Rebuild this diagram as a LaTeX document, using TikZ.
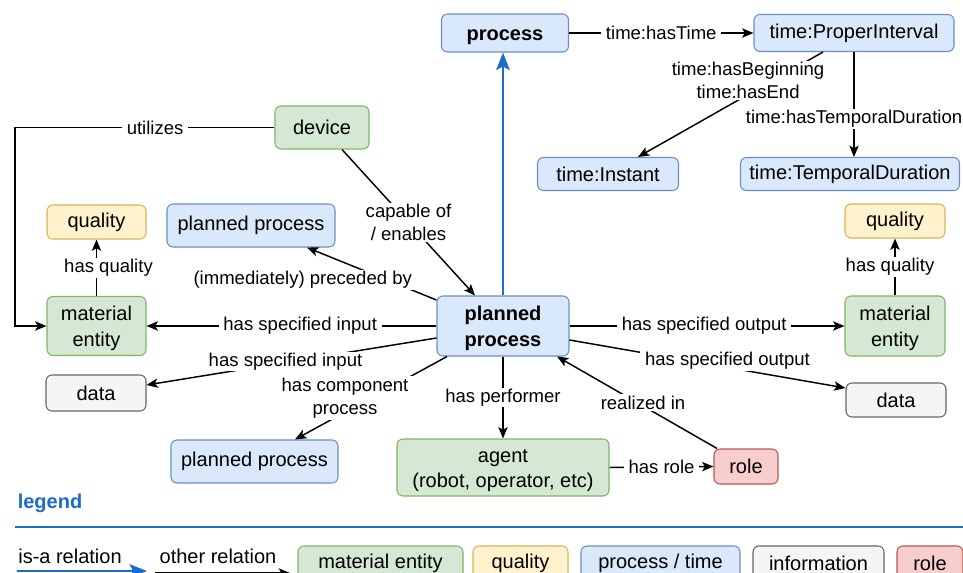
\documentclass[tikz,border=0pt]{standalone}
\usepackage{fontspec}
\setmainfont{Liberation Sans}
\usepackage{tikz}
\usetikzlibrary{arrows.meta}
\usepackage{xcolor}
\definecolor{greenfill}{HTML}{D5E8D4}
\definecolor{greenline}{HTML}{82B366}
\definecolor{yellowfill}{HTML}{FFF2CC}
\definecolor{yellowline}{HTML}{D6B656}
\definecolor{bluefill}{HTML}{DAE8FC}
\definecolor{blueline}{HTML}{6C8EBF}
\definecolor{greyfill}{HTML}{F5F5F5}
\definecolor{greyline}{HTML}{666666}
\definecolor{redfill}{HTML}{F8CECC}
\definecolor{redline}{HTML}{B85450}
\definecolor{isablue}{HTML}{1A6CCF}
\newcommand{\lift}{\rule{0pt}{14.5pt}}
\tikzset{
  box/.style = {draw, rounded corners=4.5pt, line width=0.8pt, inner sep=0pt, align=center,
    font=\fontsize{15}{19}\selectfont},
  material/.style = {box, fill=greenfill, draw=greenline},
  qual/.style = {box, fill=yellowfill, draw=yellowline},
  proc/.style = {box, fill=bluefill, draw=blueline},
  info/.style = {box, fill=greyfill, draw=greyline},
  rolebox/.style = {box, fill=redfill, draw=redline},
  rel/.style = {line width=1.1pt, -{Stealth[length=8.5pt,width=7pt,inset=2pt]}},
  isa/.style = {line width=2.2pt, draw=isablue, -{Stealth[length=13pt,width=10pt,inset=2.5pt]}},
  lbl/.style = {fill=white, inner xsep=3.5pt, inner ysep=1pt, align=center, font=\fontsize{13.9}{17.5}\selectfont},
  legendtext/.style = {inner sep=1pt, font=\fontsize{15}{19}\selectfont}
}

\begin{document}
\begin{tikzpicture}[x=0.75pt, y=-0.75pt]
  \useasboundingbox (0,0) rectangle (963,573);

  % time part
  \node[proc, font=\fontsize{15}{19}\selectfont\bfseries, minimum width=95.25pt, minimum height=28.5pt] (process) at (505,33) {\lift process};
  \node[proc, minimum width=150pt, minimum height=27.75pt] (interval) at (854,33) {time:ProperInterval};
  \node[proc, minimum width=105.75pt, minimum height=24.75pt] (instant) at (608,174) {time:Instant};
  \node[proc, minimum width=164.25pt, minimum height=24.75pt] (duration) at (850,174) {time:TemporalDuration};

  % planned process and its neighbours
  \node[proc, font=\fontsize{15}{19}\selectfont\bfseries, minimum width=99pt, minimum height=45pt] (pp) at (503,326) {\lift planned\\process};
  \node[material, minimum width=70.5pt, minimum height=32.25pt] (device) at (322,127.5) {device};
  \node[qual, minimum width=74.25pt, minimum height=25.5pt] (qualL) at (96.5,222) {quality};
  \node[proc, minimum width=126pt, minimum height=32.25pt] (ppTop) at (251,225.5) {planned process};
  \node[material, minimum width=74.25pt, minimum height=44.25pt] (matL) at (96.5,326) {\lift material\\entity};
  \node[info, minimum width=75pt, minimum height=27pt] (dataL) at (96,393) {data};
  \node[qual, minimum width=75pt, minimum height=25.5pt] (qualR) at (895,221) {quality};
  \node[material, minimum width=75pt, minimum height=45pt] (matR) at (895,326) {\lift material\\entity};
  \node[info, minimum width=75pt, minimum height=25.5pt] (dataR) at (896,400) {data};
  \node[proc, minimum width=125.25pt, minimum height=32.25pt] (ppBot) at (254.5,461.5) {planned process};
  \node[material, minimum width=159pt, minimum height=42.75pt] (agent) at (503,467.5) {\lift agent\\(robot, operator, etc)};
  \node[rolebox, minimum width=48pt, minimum height=26.25pt] (role) at (746,466.5) {role};
  \coordinate (bend) at (15,0);

  \draw[isa] (pp.north) -- (pp.north |- process.south);
  \draw[rel] (process.east) -- node[lbl] {time:hasTime} (interval.west);
  \draw[rel] ([xshift=-23.25pt]interval.south) -- node[lbl, pos=0.27, xshift=-18.75pt] {time:hasBeginning\\time:hasEnd} ([xshift=22.5pt]instant.north);
  \draw[rel] (interval.south) -- node[lbl, pos=0.64] {time:hasTemporalDuration} (interval.south |- duration.north);

  \draw[rel] ([xshift=15pt]device.south) -- node[lbl] {capable of\\/ enables} ([xshift=-21pt]pp.north);
  \draw[rel] (device.west) -- node[lbl, pos=0.46] {utilizes} (device.west -| bend) |- (matL.west);
  \draw[rel] ([yshift=19.5pt]pp.west) -- node[lbl, xshift=-51.75pt, yshift=-4.5pt] {(immediately) preceded by} ([xshift=42pt]ppTop.south);
  \draw[rel] (pp.west) -- node[lbl, pos=0.47] {has specified input} (matL.east);
  \draw[rel] ([yshift=-9pt]pp.west) -- node[lbl, xshift=-4.5pt] {has specified input} ([yshift=6pt]dataL.east);
  \draw[rel] ([xshift=-42pt]pp.south) -- node[lbl, xshift=-19.5pt] {has component\\process} ([xshift=30.4pt]ppBot.north);
  \draw[rel] (pp.south) -- node[lbl] {has performer} (agent.north);
  \draw[rel] ([xshift=-21.75pt]role.north) -- node[lbl, xshift=4.5pt] {realized in} ([xshift=40.5pt]pp.south);
  \draw[rel] (agent.east) -- node[lbl] {has role} (role.west);
  \draw[rel] (pp.east) -- node[lbl, pos=0.49] {has specified output} (matR.west);
  \draw[rel] ([yshift=-10.5pt]pp.east) -- node[lbl, xshift=15pt, yshift=2.25pt] {has specified output} ([yshift=9pt]dataR.west);
  \draw[rel] (matL.north) -- node[lbl, xshift=9pt] {has quality} (qualL.south);
  \draw[rel] (matR.north) -- node[lbl, xshift=-3.75pt] {has quality} (qualR.south);

  % legend
  \node[legendtext, font=\fontsize{15}{19}\selectfont\bfseries, text=isablue] (legend) at (50,503) {legend};
  \coordinate (legL) at (15,527);
  \coordinate (legR) at (963,527);
  \draw[isablue, line width=1.1pt] (legL) -- (legR);
  \node[legendtext] (isatext) at (70,556) {is-a relation};
  \node[legendtext] (othertext) at (218,556) {other relation};
  \coordinate (isaA) at (17,571);
  \coordinate (isaB) at (147,571);
  \coordinate (relA) at (155,573);
  \coordinate (relB) at (290,573);
  \draw[isa] (isaA) -- (isaB);
  \draw[rel] (relA) -- (relB);
  \node[material, minimum width=123.75pt, minimum height=25.5pt] (keyMat) at (380.5,563) {material entity};
  \node[qual, minimum width=71.25pt, minimum height=25.5pt] (keyQual) at (520.5,563) {quality};
  \node[proc, minimum width=119.25pt, minimum height=25.5pt] (keyProc) at (660.5,563) {process / time};
  \node[info, minimum width=98.25pt, minimum height=25.5pt] (keyInfo) at (818.5,563) {information};
  \node[rolebox, minimum width=49.5pt, minimum height=25.5pt] (keyRole) at (930,563) {role};
\end{tikzpicture}
\end{document}
